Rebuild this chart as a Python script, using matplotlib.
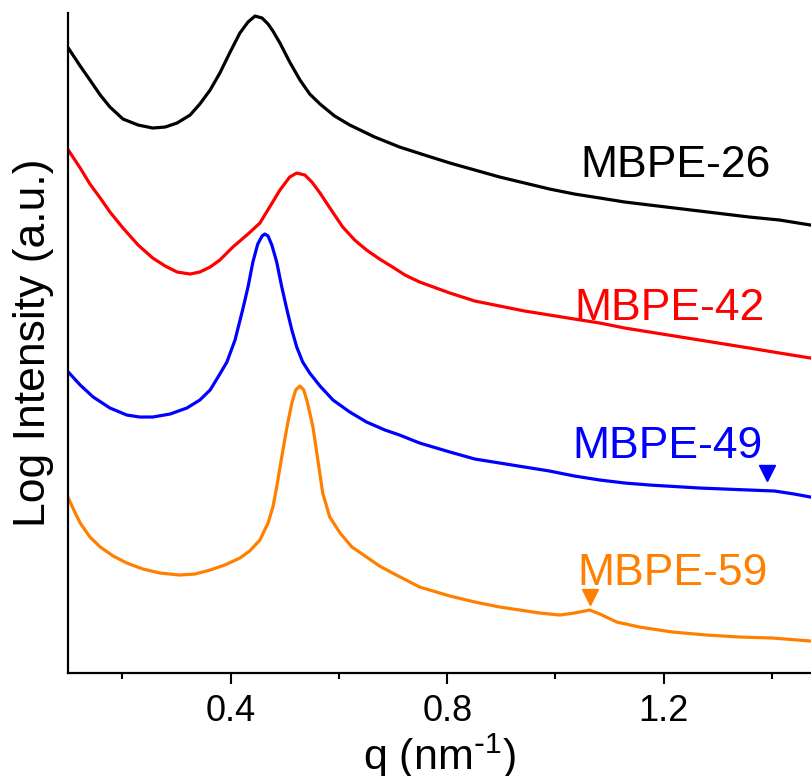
import matplotlib
matplotlib.use("Agg")
import matplotlib.pyplot as plt

plt.rcParams['font.family'] = ['Liberation Sans', 'DejaVu Sans']
plt.rcParams['mathtext.default'] = 'regular'

# scattering curves, q in nm^-1, log intensity offset (a.u.)
q_26 = [0.100, 0.122, 0.140, 0.159, 0.177, 0.201, 0.229, 0.256, 0.279, 0.301,
        0.325, 0.343, 0.362, 0.380, 0.399, 0.417, 0.432, 0.445, 0.458, 0.469,
        0.478, 0.491, 0.509, 0.528, 0.546, 0.565, 0.592, 0.620, 0.666, 0.712,
        0.758, 0.805, 0.851, 0.897, 0.943, 0.989, 1.035, 1.082, 1.128, 1.174,
        1.266, 1.358, 1.414, 1.471]
I_26 = [6.25, 6.07, 5.93, 5.78, 5.66, 5.54, 5.48, 5.45, 5.46, 5.50,
        5.58, 5.69, 5.83, 6.00, 6.21, 6.40, 6.51, 6.57, 6.55, 6.49,
        6.42, 6.30, 6.11, 5.93, 5.79, 5.69, 5.57, 5.48, 5.36, 5.26,
        5.18, 5.10, 5.03, 4.96, 4.90, 4.84, 4.79, 4.75, 4.71, 4.68,
        4.62, 4.56, 4.53, 4.48]

q_42 = [0.100, 0.122, 0.140, 0.159, 0.177, 0.201, 0.229, 0.256, 0.279, 0.301,
        0.325, 0.343, 0.362, 0.380, 0.404, 0.432, 0.454, 0.472, 0.491, 0.509,
        0.522, 0.537, 0.550, 0.565, 0.587, 0.607, 0.629, 0.651, 0.675, 0.699,
        0.722, 0.749, 0.805, 0.851, 0.897, 0.943, 0.989, 1.035, 1.082, 1.128,
        1.174, 1.266, 1.358, 1.414, 1.471]
I_42 = [5.23, 5.05, 4.89, 4.75, 4.61, 4.45, 4.28, 4.15, 4.07, 4.01,
        3.99, 4.01, 4.06, 4.13, 4.26, 4.39, 4.50, 4.66, 4.83, 4.96,
        5.00, 4.98, 4.91, 4.80, 4.62, 4.46, 4.33, 4.23, 4.14, 4.06,
        3.98, 3.91, 3.80, 3.72, 3.67, 3.62, 3.58, 3.54, 3.50, 3.45,
        3.41, 3.33, 3.25, 3.20, 3.15]

q_49 = [0.100, 0.122, 0.146, 0.177, 0.208, 0.232, 0.256, 0.288, 0.319, 0.343,
        0.362, 0.380, 0.393, 0.408, 0.422, 0.432, 0.441, 0.450, 0.458, 0.463,
        0.469, 0.476, 0.485, 0.494, 0.504, 0.513, 0.522, 0.533, 0.546, 0.565,
        0.589, 0.620, 0.651, 0.685, 0.712, 0.749, 0.805, 0.851, 0.897, 0.943,
        0.989, 1.035, 1.082, 1.128, 1.174, 1.266, 1.358, 1.405, 1.441, 1.471]
I_49 = [3.01, 2.88, 2.76, 2.65, 2.58, 2.56, 2.56, 2.59, 2.65, 2.73,
        2.83, 2.99, 3.11, 3.33, 3.63, 3.86, 4.11, 4.29, 4.37, 4.39,
        4.37, 4.28, 4.11, 3.87, 3.63, 3.43, 3.26, 3.11, 3.00, 2.87,
        2.73, 2.61, 2.51, 2.43, 2.38, 2.30, 2.21, 2.14, 2.10, 2.06,
        2.02, 1.97, 1.93, 1.90, 1.88, 1.85, 1.83, 1.82, 1.79, 1.76]

q_59 = [0.100, 0.112, 0.122, 0.140, 0.159, 0.183, 0.208, 0.238, 0.269, 0.306,
        0.334, 0.362, 0.389, 0.417, 0.435, 0.454, 0.469, 0.478, 0.485, 0.494,
        0.504, 0.513, 0.520, 0.528, 0.535, 0.542, 0.552, 0.561, 0.570, 0.583,
        0.602, 0.624, 0.651, 0.675, 0.699, 0.749, 0.805, 0.851, 0.897, 0.934,
        0.971, 1.008, 1.035, 1.063, 1.082, 1.113, 1.155, 1.216, 1.279, 1.340,
        1.401, 1.471]
I_59 = [1.75, 1.61, 1.50, 1.36, 1.26, 1.17, 1.10, 1.04, 1.00, 0.98,
        0.99, 1.03, 1.08, 1.15, 1.22, 1.33, 1.50, 1.66, 1.86, 2.15,
        2.46, 2.70, 2.83, 2.87, 2.83, 2.70, 2.46, 2.13, 1.80, 1.56,
        1.40, 1.26, 1.16, 1.07, 1.00, 0.86, 0.77, 0.71, 0.66, 0.63,
        0.60, 0.58, 0.60, 0.63, 0.59, 0.51, 0.46, 0.41, 0.38, 0.36,
        0.35, 0.32]

names = ['MBPE-26', 'MBPE-42', 'MBPE-49', 'MBPE-59']
colors = ['black', '#ff0000', '#0000ff', '#ff8000']
label_q = [1.046, 1.035, 1.032, 1.041]
label_I = [4.96, 3.53, 2.15, 0.88]

# peak markers
mark_q = [1.391, 1.063]
mark_I = [2.00, 0.76]
mark_colors = ['#0000ff', '#ff8000']

fig = plt.figure(figsize=(8.11, 7.76), dpi=100)
ax = fig.add_axes([0.0842, 0.1327, 0.9158, 0.8509])

curves = [(q_26, I_26), (q_42, I_42), (q_49, I_49), (q_59, I_59)]
for (q, I), c in zip(curves, colors):
    ax.plot(q, I, color=c, lw=2.3, solid_joinstyle='round')

for n, c, x, y in zip(names, colors, label_q, label_I):
    ax.text(x, y, n, color=c, fontsize=32, ha='left', va='baseline')

for x, y, c in zip(mark_q, mark_I, mark_colors):
    ax.plot(x, y, marker='v', color=c, markersize=12, ls='none')

ax.set_xlim(0.1, 1.472)
ax.set_ylim(0, 6.603)
ax.set_xticks([0.4, 0.8, 1.2])
ax.set_xticks([0.2, 0.6, 1.0, 1.4], minor=True)
ax.set_yticks([])
ax.tick_params(axis='x', which='major', length=8, width=1.5, labelsize=26, pad=7)
ax.tick_params(axis='x', which='minor', length=4, width=1.5)
for s in ['top', 'right']:
    ax.spines[s].set_visible(False)
for s in ['left', 'bottom']:
    ax.spines[s].set_linewidth(1.6)

ax.set_xlabel(r'q (nm$^{\text{-}1}$)', fontsize=31, labelpad=2)
ax.set_ylabel('Log Intensity (a.u.)', fontsize=32, labelpad=10)

fig.savefig('out.png', dpi=100)
